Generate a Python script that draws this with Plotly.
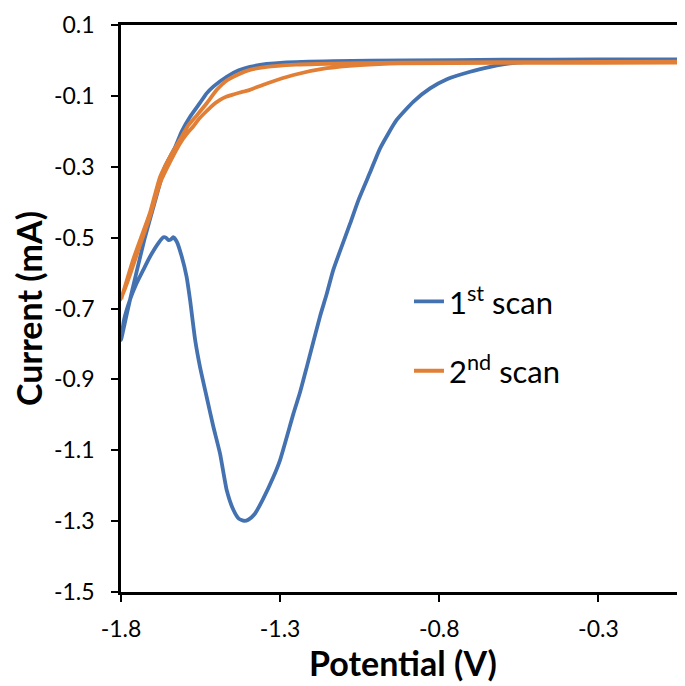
import plotly.graph_objects as go

# ---- data ----
scan1_potential = [-0.03, -0.3, -0.5, -0.556, -0.60, -0.640, -0.703, -0.776, -0.829, -0.881,
                   -0.934, -0.986, -1.017, -1.054, -1.080, -1.133, -1.154, -1.175, -1.216, -1.237,
                   -1.258, -1.300, -1.321, -1.355, -1.380, -1.400, -1.413, -1.430, -1.447, -1.468,
                   -1.489, -1.510, -1.531, -1.552, -1.567, -1.583, -1.594, -1.609, -1.625, -1.636,
                   -1.643, -1.651, -1.659, -1.667, -1.683, -1.709, -1.730, -1.751, -1.772, -1.790,
                   -1.800,
                   -1.778, -1.752, -1.725, -1.694, -1.662, -1.630, -1.609, -1.583, -1.552, -1.531,
                   -1.510, -1.468, -1.430, -1.395, -1.342, -1.290, -1.133, -0.900, -0.600, -0.300,
                   -0.030]
scan1_current = [0.000, -0.001, -0.003, -0.006, -0.011, -0.018, -0.032, -0.053, -0.079, -0.116,
                 -0.168, -0.248, -0.315, -0.394, -0.460, -0.591, -0.660, -0.723, -0.864, -0.935,
                 -0.996, -1.127, -1.175, -1.240, -1.280, -1.296, -1.299, -1.293, -1.268, -1.212,
                 -1.109, -1.033, -0.949, -0.864, -0.789, -0.676, -0.610, -0.554, -0.511, -0.499,
                 -0.505, -0.507, -0.500, -0.499, -0.516, -0.554, -0.591, -0.629, -0.676, -0.730,
                 -0.789,
                 -0.700, -0.600, -0.500, -0.400, -0.300, -0.245, -0.200, -0.159, -0.120, -0.093,
                 -0.074, -0.046, -0.028, -0.018, -0.010, -0.006, -0.002, 0.000, 0.002, 0.003,
                 0.003]

scan2_potential = [-0.03, -0.30, -0.60, -0.923, -1.049, -1.154, -1.258, -1.342, -1.395, -1.416,
                   -1.447, -1.468, -1.490, -1.510, -1.530, -1.552, -1.572, -1.594, -1.615, -1.645,
                   -1.677, -1.709, -1.740, -1.770, -1.800,
                   -1.761, -1.740, -1.709, -1.677, -1.645, -1.615, -1.590, -1.562, -1.530, -1.499,
                   -1.470, -1.447, -1.400, -1.342, -1.250, -1.185, -0.923, -0.600, -0.300, -0.030]
scan2_current = [-0.006, -0.007, -0.007, -0.008, -0.013, -0.022, -0.041, -0.065, -0.083, -0.088,
                 -0.096, -0.102, -0.112, -0.125, -0.142, -0.162, -0.185, -0.208, -0.235, -0.285,
                 -0.345, -0.440, -0.520, -0.600, -0.676,
                 -0.560, -0.507, -0.430, -0.328, -0.270, -0.224, -0.185, -0.155, -0.120, -0.083,
                 -0.058, -0.046, -0.028, -0.018, -0.012, -0.010, -0.006, -0.005, -0.004, -0.003]

series_names = ["1<sup>st</sup> scan", "2<sup>nd</sup> scan"]
series_colors = ["#4472B0", "#E07F35"]

x_tick_values = [-1.8, -1.3, -0.8, -0.3]
x_tick_labels = ["-1.8", "-1.3", "-0.8", "-0.3"]
y_tick_values = [0.1, -0.1, -0.3, -0.5, -0.7, -0.9, -1.1, -1.3, -1.5]
y_tick_labels = ["0.1", "-0.1", "-0.3", "-0.5", "-0.7", "-0.9", "-1.1", "-1.3", "-1.5"]

x_title = "Potential (V)"
y_title = "Current (mA)"

FONT = "Lato, 'Open Sans', sans-serif"

fig = go.Figure()
fig.add_trace(go.Scatter(x=scan1_potential, y=scan1_current, mode="lines",
                         name=series_names[0], legendgroup="a",
                         line=dict(color=series_colors[0], width=3.8, shape="spline", smoothing=0.5)))
fig.add_trace(go.Scatter(x=scan2_potential, y=scan2_current, mode="lines",
                         name=series_names[1], legendgroup="b",
                         line=dict(color=series_colors[1], width=3.8, shape="spline", smoothing=0.5)))

fig.update_layout(
    width=677, height=678,
    margin=dict(l=113, r=0, t=17, b=94),
    paper_bgcolor="white", plot_bgcolor="white",
    font=dict(family=FONT, size=23, color="black"),
    showlegend=True,
    legend=dict(x=0.5106, y=0.451, xanchor="left", yanchor="middle",
                bgcolor="rgba(0,0,0,0)", font=dict(size=31, family=FONT, color="black"),
                traceorder="grouped", tracegroupgap=26),
    xaxis=dict(range=[-1.8, -0.028], tickvals=x_tick_values, ticktext=x_tick_labels,
               showgrid=False, zeroline=False,
               showline=True, linecolor="black", linewidth=2.5, mirror=True,
               ticks="outside", ticklen=7, tickwidth=2, tickcolor="black",
               ticklabelstandoff=8,
               tickfont=dict(size=23, family=FONT),
               title=dict(text="<b>" + x_title + "</b>", font=dict(size=34, family=FONT), standoff=8)),
    yaxis=dict(range=[-1.5, 0.1], tickvals=y_tick_values, ticktext=y_tick_labels,
               showgrid=False, zeroline=False,
               showline=True, linecolor="black", linewidth=2.5,
               ticks="outside", ticklen=7, tickwidth=2, tickcolor="black",
               ticklabelstandoff=12,
               tickfont=dict(size=23, family=FONT),
               title=dict(text="<b>" + y_title + "</b>", font=dict(size=34, family=FONT), standoff=8)),
)

fig.write_html("out.html")
